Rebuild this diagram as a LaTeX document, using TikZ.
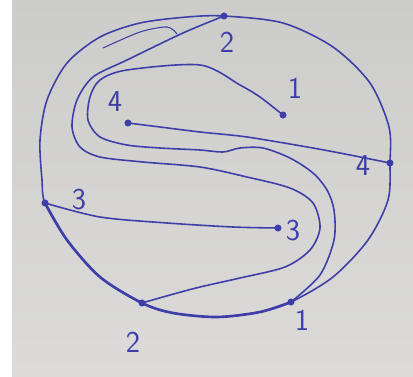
\documentclass[tikz,border=0pt]{standalone}
\usetikzlibrary{positioning}

\definecolor{ink}{RGB}{62,62,168}
\definecolor{paperTop}{RGB}{204,204,202}
\definecolor{paperBot}{RGB}{220,219,218}

\begin{document}
\begin{tikzpicture}[
    x=0.02cm, y=-0.02cm,
    dot/.style={circle, fill=ink, inner sep=0pt, minimum size=4pt},
    digit/.style={font=\LARGE\sffamily, text=ink, inner sep=1pt},
    pen/.style={draw=ink, line width=0.9pt, line cap=round, line join=round},
    heavy/.style={pen, line width=1.5pt}
]

% Paper
\useasboundingbox (0,0) rectangle (413,376);
\fill[white] (0,0) rectangle (413,376);
\shade[top color=paperTop, bottom color=paperBot] (12,0) rectangle (413,376);

% Points on the circle
\node[dot] (T2) at (224,16) {};
\node[dot] (R4) at (390,163) {};
\node[dot] (B1) at (291,302) {};
\node[dot] (B2) at (142,303) {};
\node[dot] (L3) at (45,203) {};

% Points inside
\node[dot] (I1) at (283,115) {};
\node[dot] (I4) at (128,123) {};
\node[dot] (I3) at (278,228) {};

% Labels
\node[digit] (lT2) at (227,42) {2};
\node[digit] (lR4) at (363,166) {4};
\node[digit] (lB1) at (302,320) {1};
\node[digit] (lB2) at (133,342) {2};
\node[digit] (lL3) at (79,200) {3};
\node[digit] (lI1) at (295,88) {1};
\node[digit] (lI4) at (115,102) {4};
\node[digit] (lI3) at (293,231) {3};

% Circle
\draw[pen] plot[smooth cycle] coordinates {(T2) (187,17) (140,23) (100,37) (67,63)
    (47,100) (40,140) (42,180) (L3) (67,240) (100,277) (B2) (173,313) (217,317)
    (260,312) (B1) (333,277) (368,240) (388,200) (R4) (389,127) (370,83) (333,47)
    (283,23)};
\draw[heavy] plot[smooth] coordinates {(L3) (67,240) (100,277) (B2) (173,313)
    (217,317) (260,312) (B1)};

% Stray stroke
\draw[pen, line width=0.6pt] plot[smooth] coordinates {(103,48) (140,32) (167,27) (177,34)};

% S curves
\draw[pen] plot[smooth] coordinates {(T2) (183,33) (127,60) (93,77) (77,100) (72,127)
    (80,147) (100,157) (143,162) (200,167) (247,177) (290,188) (313,203) (320,228)
    (310,250) (285,267) (240,278) (200,287) (170,295) (B2)};
\draw[pen] plot[smooth] coordinates {(I1) (260,97) (240,85) (200,65) (127,70) (100,80)
    (90,97) (88,120) (100,137) (127,145) (160,148) (200,150) (223,152) (240,148)
    (263,148) (290,158) (313,173) (327,190) (334,210) (334,240) (320,275) (B1)};

% Chords
\draw[pen] plot[smooth] coordinates {(I4) (160,127) (200,132) (247,137) (313,148)
    (350,155) (R4)};
\draw[pen] plot[smooth] coordinates {(L3) (100,217) (167,223) (233,227) (I3)};

\end{tikzpicture}
\end{document}
